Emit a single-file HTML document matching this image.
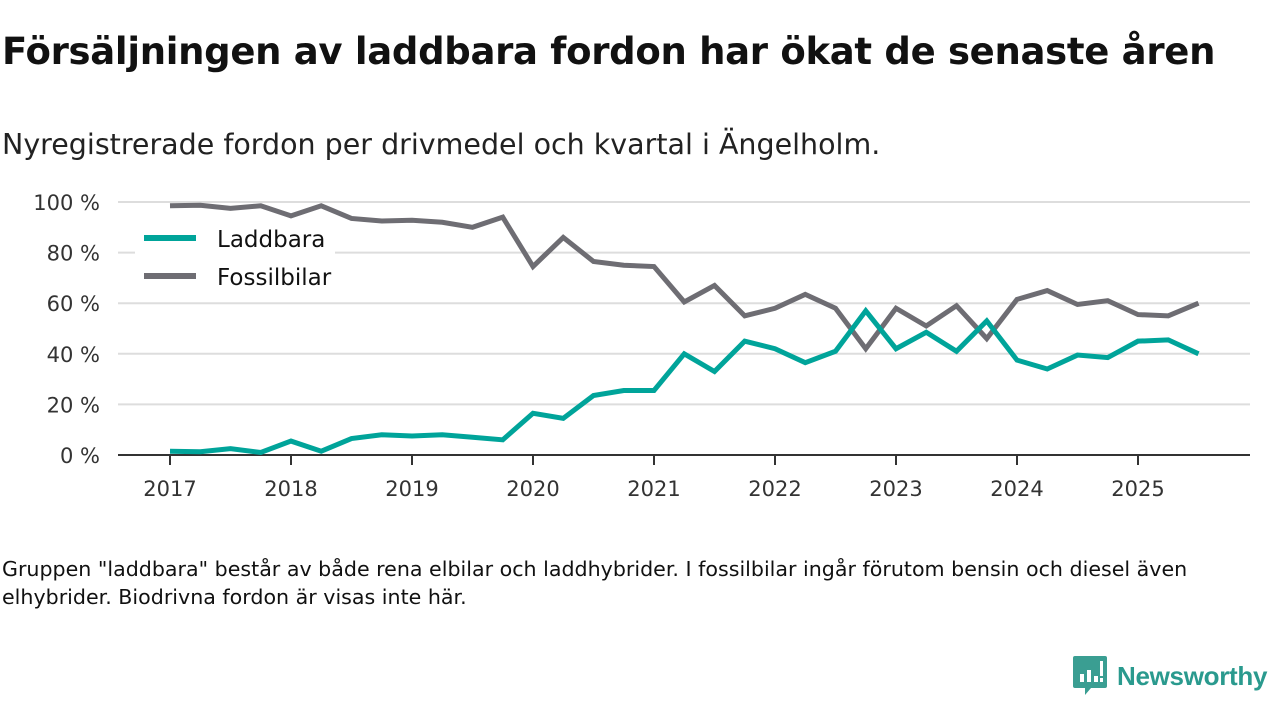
<!DOCTYPE html>
<html><head><meta charset="utf-8"><style>
body{margin:0;width:1280px;height:720px;background:#fff;font-family:"DejaVu Sans","Liberation Sans",sans-serif;color:#111;overflow:hidden;position:relative}
h1{position:absolute;left:2px;top:30px;margin:0;font-size:37px;font-weight:bold;letter-spacing:-0.3px}
.sub{position:absolute;left:2px;top:128px;font-size:28.5px;color:#222}
.note{position:absolute;left:2px;top:555px;font-size:20.6px;line-height:28px;color:#111;width:1235px}
.logo{position:absolute;left:1073px;top:656px;display:flex;align-items:center}
.logo span{font-family:"Liberation Sans",sans-serif;font-size:26px;color:#2a9a8e;margin-left:10px;font-weight:bold;letter-spacing:-0.3px}
</style></head><body>
<h1>Försäljningen av laddbara fordon har ökat de senaste åren</h1>
<div class="sub">Nyregistrerade fordon per drivmedel och kvartal i Ängelholm.</div>
<svg id="chart" width="1280" height="720" style="position:absolute;left:0;top:0"></svg>
<div class="note">Gruppen "laddbara" består av både rena elbilar och laddhybrider. I fossilbilar ingår förutom bensin och diesel även elhybrider. Biodrivna fordon är visas inte här.</div>
<div class="logo">
<svg width="34" height="40" viewBox="0 0 34 40"><path d="M2 0h30a2 2 0 0 1 2 2v28a2 2 0 0 1-2 2H18l-6 7v-7H2a2 2 0 0 1-2-2V2a2 2 0 0 1 2-2z" fill="#3a9e92"/><rect x="7" y="18" width="4" height="8" fill="#fff"/><rect x="14" y="14" width="4" height="12" fill="#fff"/><rect x="21" y="20" width="4" height="6" fill="#fff"/><rect x="27" y="5" width="3" height="15" fill="#fff"/><rect x="27" y="22" width="3" height="4" fill="#fff"/></svg>
<span>Newsworthy</span></div>
<script>
const years=[2017,2018,2019,2020,2021,2022,2023,2024,2025];
const yTicks=[0,20,40,60,80,100];
const laddbara=[1.5,1.3,2.5,1,5.5,1.5,6.5,8,7.5,8,7,6,16.5,14.5,23.5,25.5,25.5,40,33,45,42,36.5,41,57,42,48.5,41,53,37.5,34,39.5,38.5,45,45.5,40];
const fossil=[98.5,98.7,97.5,98.5,94.5,98.5,93.5,92.5,92.8,92,90,94,74.5,86,76.5,75,74.5,60.5,67,55,58,63.5,58,42,58,51,59,46,61.5,65,59.5,61,55.5,55,60];
const NS="http://www.w3.org/2000/svg",svg=document.getElementById('chart');
const x=t=>170+(t-2017)*121, y=v=>455-v*2.53;
function el(tag,a,txt){const e=document.createElementNS(NS,tag);for(const k in a)e.setAttribute(k,a[k]);if(txt!=null)e.textContent=txt;svg.appendChild(e);return e;}
yTicks.forEach(v=>{
 if(v>0){const g=el('line',{x1:118,x2:1250,y1:y(v),y2:y(v),stroke:'#ddd','stroke-width':2});
 
 }
 const t=el('text',{x:100,y:y(v)+8,'text-anchor':'end','font-size':21,fill:'#333','font-family':'DejaVu Sans, Liberation Sans, sans-serif'},v+' %');
 
 
});
const ax=el('line',{x1:118,x2:1250,y1:455,y2:455,stroke:'#333','stroke-width':2});


years.forEach(yr=>{
 const tk=el('line',{x1:x(yr),x2:x(yr),y1:455,y2:465,stroke:'#333','stroke-width':2});
 
 
 const t=el('text',{x:x(yr),y:496,'text-anchor':'middle','font-size':21,fill:'#333','font-family':'DejaVu Sans, Liberation Sans, sans-serif'},yr);
 
 
});
function line(d,c,n){const p=el('polyline',{points:d.map((v,i)=>x(2017+i/4)+','+y(v)).join(' '),fill:'none',stroke:c,'stroke-width':5,'stroke-linejoin':'miter'});

}
line(fossil,'#6e6d73','fossilbilar-line');
line(laddbara,'#00a49a','laddbara-line');
const lb=el('rect',{x:135,y:220,width:200,height:74,fill:'#fff'});


[['Laddbara','#00a49a',238],['Fossilbilar','#6e6d73',276]].forEach(([n,c,yy])=>{
 const l=el('line',{x1:144,x2:196,y1:yy,y2:yy,stroke:c,'stroke-width':6});
 
 
 const t=el('text',{x:217,y:yy+9,'font-size':23,fill:'#111','font-family':'DejaVu Sans, Liberation Sans, sans-serif'},n);
 
 
});
</script>
</body></html>
